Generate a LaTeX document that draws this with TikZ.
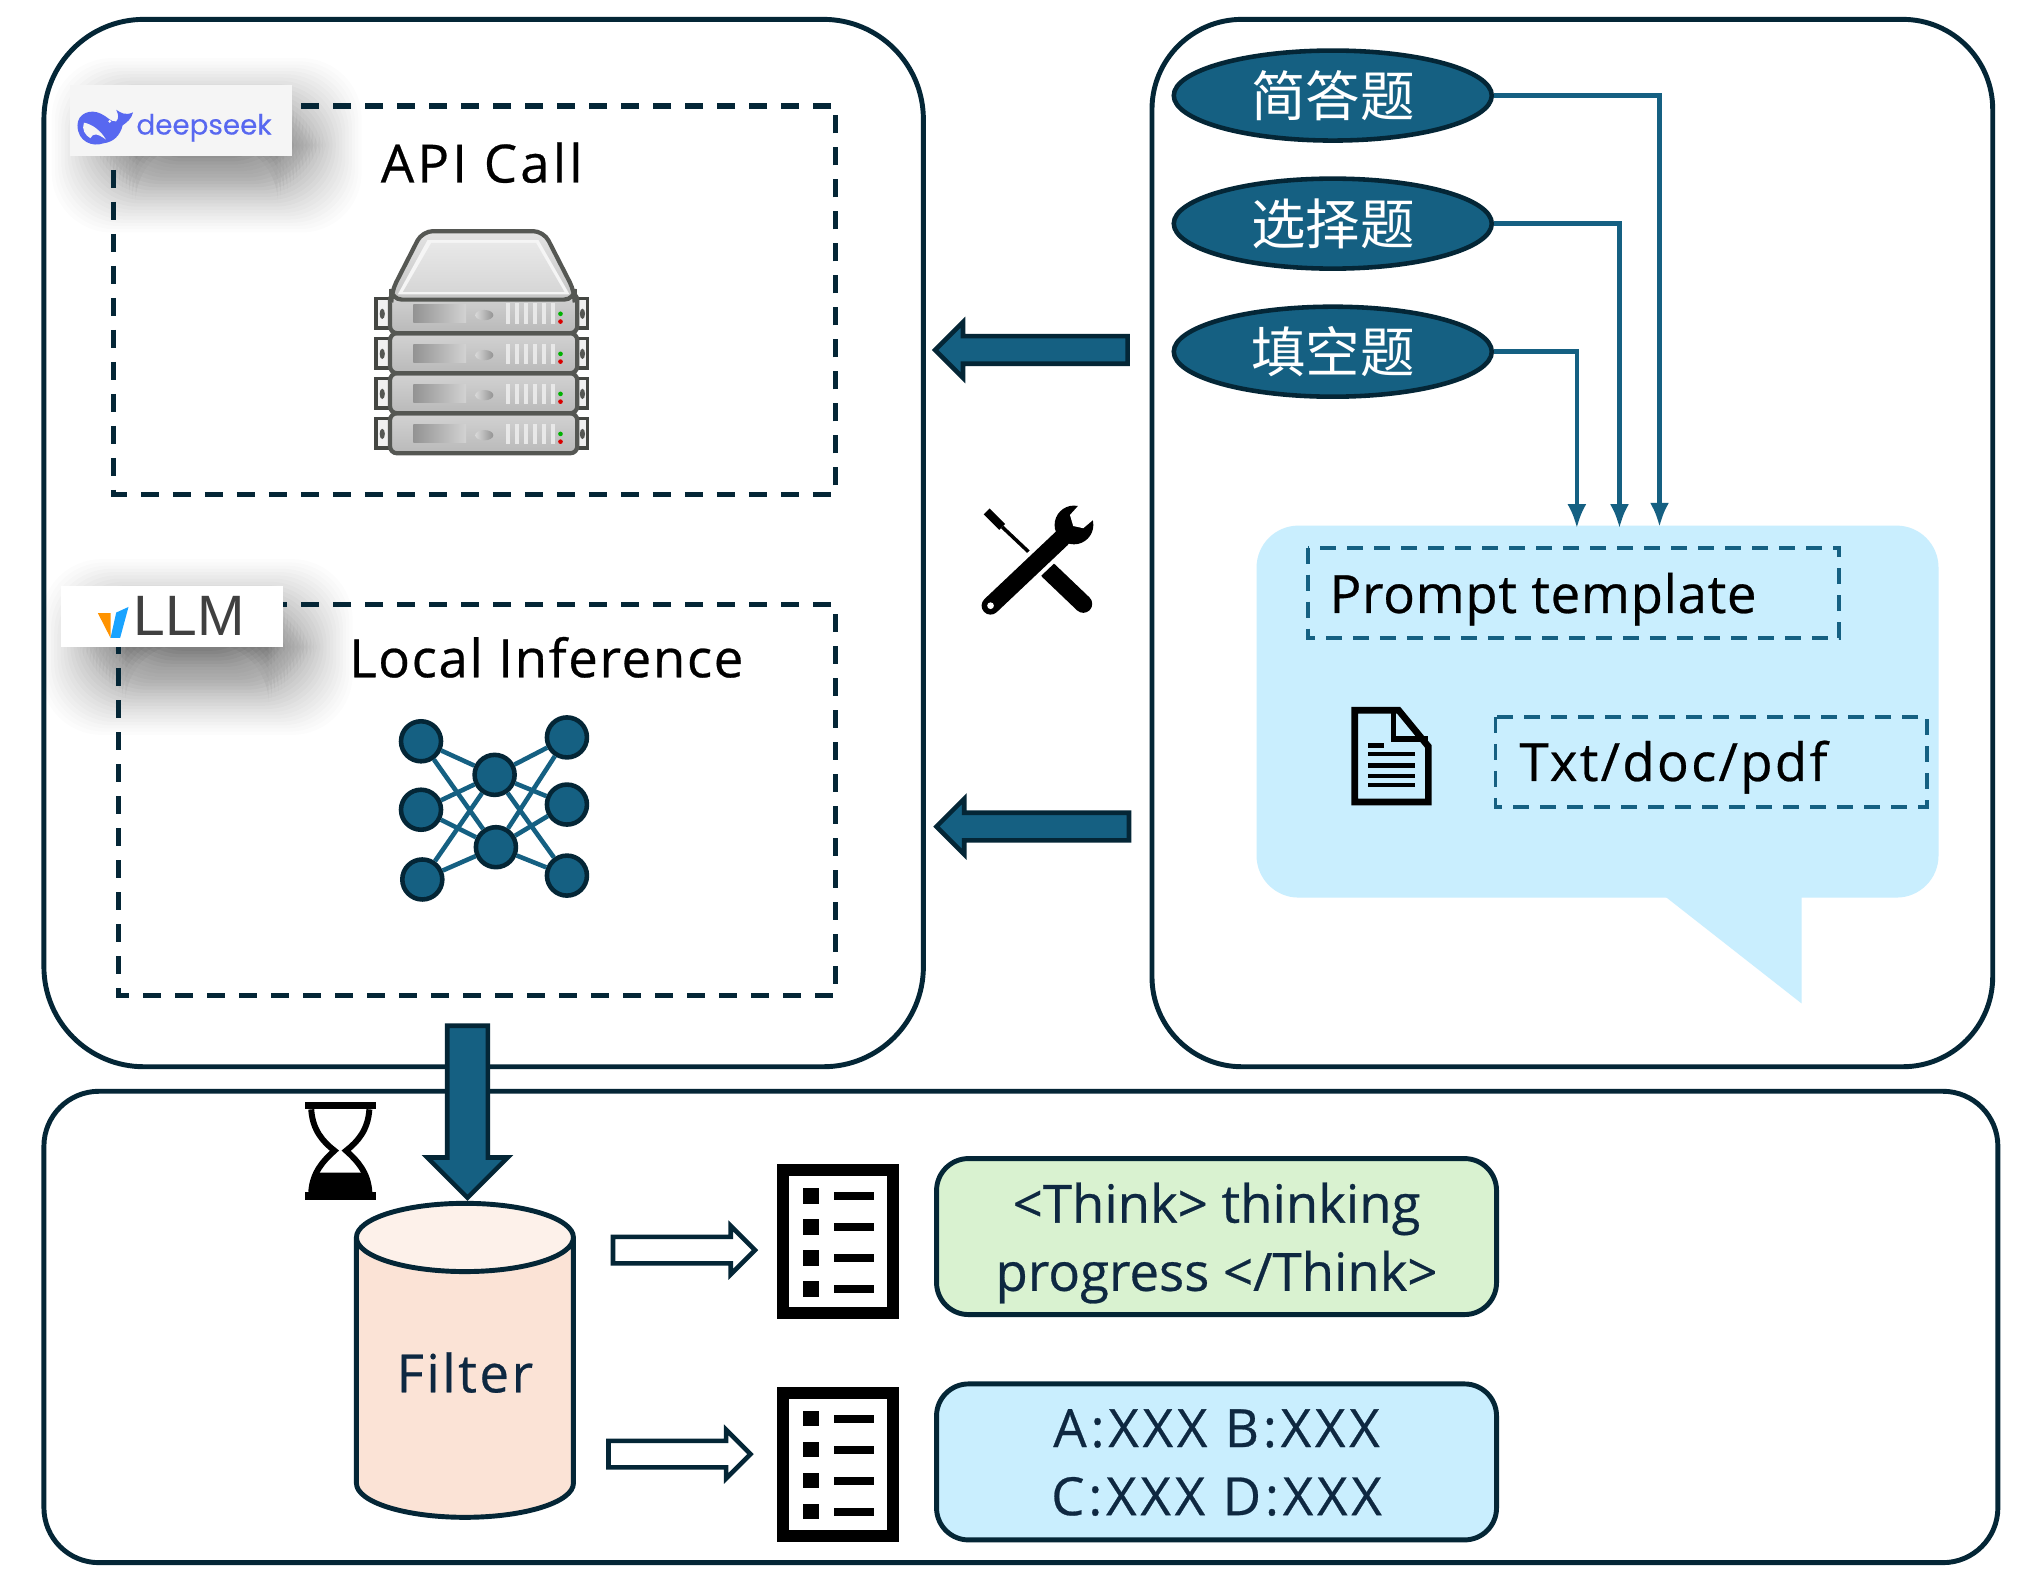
\documentclass[tikz,border=0pt]{standalone}
\usepackage{fontspec}
\setmainfont{Open Sans}
\newfontfamily\cjkfont{Noto Sans CJK SC}
\newfontfamily\logofont{Poppins}
\newfontfamily\vllmfont{Liberation Sans}
\usetikzlibrary{arrows.meta,positioning,shapes.geometric,shapes.arrows}
\definecolor{navyline}{RGB}{4,38,54}
\definecolor{tealfill}{RGB}{21,96,130}
\definecolor{skyfill}{RGB}{201,238,254}
\definecolor{mintfill}{RGB}{217,242,208}
\definecolor{peachfill}{RGB}{251,227,214}
\definecolor{peachtop}{RGB}{253,241,234}
\definecolor{inktext}{RGB}{14,40,65}
\definecolor{seekblue}{RGB}{88,104,240}
\definecolor{labelgrey}{RGB}{245,245,245}
\definecolor{srvedge}{RGB}{85,87,83}
\newcommand{\softshadow}[4]{%
  \foreach \s in {-25,-22.5,...,40} {
    \pgfmathsetmacro{\alphaval}{0.012+0.02*(40-\s)/65}
    \fill[black,opacity=\alphaval,rounded corners=0.6cm] ({#1-\s},{#2-\s}) rectangle ({#3+\s},{#4+\s});
  }}
\newcommand{\serverunit}[1]{%
  \begin{scope}[shift={(0,#1)}]
    \draw[line width=1pt,draw=srvedge!80!black,fill=gray!12] (291,231) rectangle (302,254);
    \draw[line width=1pt,draw=srvedge!80!black,fill=gray!12] (447,231) rectangle (455,254);
    \fill[srvedge] (296,243) ellipse [x radius=2,y radius=4];
    \fill[srvedge] (451,243) ellipse [x radius=2,y radius=4];
    \draw[line width=1.2pt,draw=srvedge,rounded corners=2pt,top color=gray!35,bottom color=gray!55] (302,227) rectangle (447,258);
    \shade[left color=gray!85,right color=gray!35] (320,236) -- (361,236) -- (361,250) -- (320,250) -- cycle;
    \shade[left color=gray!30,right color=gray!85] (375,244) ellipse [x radius=7,y radius=4];
    \foreach \x in {392,399,...,427}
      \fill[gray!18] (\x,235) rectangle +(3,16);
    \fill[green!70!black] (434,243) circle [radius=1.8];
    \fill[red!85!black] (434,249) circle [radius=1.8];
  \end{scope}}
\newcommand{\listicon}[3]{%
  \node[draw=black,line width=3.3pt,fill=white,minimum width=1.1cm,minimum height=1.43cm,inner sep=0pt] (#3) at (#1,#2) {};
  \foreach \d in {-35.5,-11.5,12.5,36.5} {
    \fill[black] ({#1-27},{#2+\d-6}) rectangle ({#1-14.5},{#2+\d+6});
    \fill[black] ({#1-3},{#2+\d-3}) rectangle ({#1+28},{#2+\d+3});
  }}
\begin{document}
\begin{tikzpicture}[
    x=0.12915mm,y=-0.12915mm,
    panel/.style={draw=navyline,line width=1.4pt,rounded corners=#1},
    dashbox/.style={draw=navyline,line width=1.5pt,dash pattern=on 0.18cm off 0.14cm},
    tealbox/.style={draw=tealfill,line width=1.1pt,dash pattern=on 0.16cm off 0.11cm},
    qtype/.style={ellipse,draw=navyline,fill=tealfill,line width=1.3pt,minimum width=3.18cm,
      minimum height=0.9cm,inner sep=0pt,text=white,font=\cjkfont\fontsize{15.5}{18}\selectfont},
    flow/.style={draw=tealfill,line width=1.25pt,-{Latex[length=2.4mm,width=1.9mm]}},
    blockarrow/.style={single arrow,draw=navyline,fill=tealfill,line width=1.3pt,inner xsep=0pt,
      outer sep=0pt,single arrow head extend=#1,single arrow tip angle=90},
    hollowarrow/.style={single arrow,draw=navyline,fill=white,line width=1.3pt,inner xsep=0pt,
      inner ysep=0.11cm,outer sep=0pt,minimum height=1.42cm,single arrow head extend=0.11cm,
      single arrow tip angle=90},
    label/.style={font=\fontsize{15}{18}\selectfont\addfontfeature{LetterSpace=#1,FakeBold=0.5},text=black,inner sep=0pt},
    inklabel/.style={align=center,font=\fontsize{15}{19.4}\selectfont\addfontfeature{LetterSpace=#1,FakeBold=0.5},
      text=inktext,inner sep=0pt},
    result/.style={draw=navyline,line width=1.4pt,rounded corners=0.32cm,minimum width=5.6cm,
      minimum height=1.56cm,inner sep=0pt},
    neuron/.style={circle,draw=navyline,fill=tealfill,line width=1.3pt,minimum size=0.4cm,inner sep=0pt},
    synapse/.style={draw=tealfill,line width=1.3pt}
  ]
  \useasboundingbox[fill=white] (0,0) rectangle (1568,1219.6);

  \draw[panel=1.0cm] (34,15) rectangle (715,826);
  \draw[panel=0.9cm] (892,15) rectangle (1543,826);
  \draw[panel=0.55cm] (34,845) rectangle (1547,1210);

  \softshadow{80}{85}{240}{140}
  \softshadow{72}{473}{233}{529}
  \draw[dashbox] (88,82) rectangle (647,383);
  \draw[dashbox] (92,468) rectangle (647,771);

  \node[fill=labelgrey,minimum width=2.22cm,minimum height=0.71cm,inner sep=0pt] (seeklabel) at (140,93.5) {};
  \fill[seekblue] (60,97) .. controls (60,88) and (70,84) .. (78,88) .. controls (83,90) and (86,95) .. (90,94)
    .. controls (92,92) and (92,89) .. (90,85) .. controls (93,87) and (97,90) .. (103,87)
    .. controls (102,92) and (98,95) .. (95,97) .. controls (93,105) and (88,110) .. (80,111)
    .. controls (72,114) and (60,110) .. (60,97) -- cycle;
  \fill[labelgrey] (65,95) .. controls (71,96) and (78,101) .. (82,108) .. controls (75,103) and (72,103) .. (70,107)
    .. controls (66,105) and (63,100) .. (65,95) -- cycle;
  \fill[labelgrey] (85,94) circle [radius=1.2];
  \node[font=\logofont\fontsize{7.9}{10}\selectfont\addfontfeature{FakeBold=0.3},text=seekblue,inner sep=0pt] (seektext) at (158,99) {deepseek};

  \node[fill=white,minimum width=2.22cm,minimum height=0.61cm,inner sep=0pt] (vllmlabel) at (133,477.5) {};
  \fill[orange!85!yellow] (75.8,474.8) -- (85.6,474.8) -- (85.6,494) -- cycle;
  \fill[blue!40!cyan!90!white] (90,474.3) -- (99.5,470) -- (93,494) -- (85.6,494) -- cycle;
  \node[font=\vllmfont\fontsize{16.2}{18}\selectfont,text=black!75,inner sep=0pt,anchor=west] (vllmtext) at (103,477) {LLM};

  \node[label=6.0] (apicall) at (373,126) {API Call};
  \node[label=3.2] (localinf) at (423,509) {Local Inference};

  \foreach \u in {93,62,31,0} {\serverunit{\u}}
  \draw[line width=1.2pt,draw=srvedge,top color=gray!22,bottom color=gray!45,rounded corners=3pt]
    (303,232) -- (303,226) -- (327,179) -- (421,179) -- (445,226) -- (445,232) -- cycle;
  \fill[gray!8] (331,186) -- (417,186) -- (441,228) -- (308,228) -- cycle;
  \shade[top color=gray!18,bottom color=gray!32] (334,188) -- (415,188) -- (437,226) -- (312,226) -- cycle;

  \foreach \nname/\nx/\ny in {la/326/574,lb/326/627,lc/327/681,ra/439/571,rb/439/623,rc/439/678,ca/383/600,cb/384/656}
    \node[neuron] (\nname) at (\nx,\ny) {};
  \foreach \outer in {la,lb,lc,ra,rb,rc}
    \foreach \inner in {ca,cb}
      \draw[synapse] (\outer) -- (\inner);

  \node[blockarrow=0.14cm,rotate=180,inner ysep=0.115cm,minimum height=1.925cm] (apiarrow) at (804,271) {};
  \node[blockarrow=0.14cm,rotate=180,inner ysep=0.115cm,minimum height=1.925cm] (localarrow) at (805,640) {};
  \node[blockarrow=0.2cm,rotate=270,inner ysep=0.18cm,minimum height=1.72cm] (downarrow) at (362,853) {};

  \draw[line width=1pt] (776,408) -- (812,442);
  \draw[line width=5.1pt,line cap=round] (812,442) -- (838.8,467.6);
  \draw[line width=2.4pt] (764,396) -- (776,408);
  \draw[white,line width=7.4pt] (767,469) -- (825,414);
  \fill[black] (831.6,406.5) circle [radius=15];
  \draw[line width=5.1pt,line cap=round] (767,469) -- (822,417);
  \fill[white] (840,386) -- (828.5,398.8) -- (831,407.3) -- (838.8,409) -- (853,397) -- cycle;
  \fill[white] (767,469) circle [radius=2.6];

  \node[qtype] (shortq) at (1032,74) {简答题};
  \node[qtype,below=0.335cm of shortq] (choiceq) {选择题};
  \node[qtype,below=0.335cm of choiceq] (blankq) {填空题};

  \node[fill=skyfill,rounded corners=0.42cm,minimum width=6.82cm,minimum height=3.72cm,inner sep=0pt] (bubble) at (1237,551) {};
  \fill[skyfill] (1284,690) -- (1395,777) -- (1395,690) -- cycle;

  \coordinate (intoa) at (1285,408);
  \coordinate (intob) at (1254,409);
  \coordinate (intoc) at (1221,409);
  \draw[flow] (shortq.east) -| (intoa);
  \draw[flow] (choiceq.east) -| (intob);
  \draw[flow] (blankq.east) -| (intoc);

  \draw[tealbox] (1013,424) rectangle (1424,494);
  \draw[tealbox] (1158,555) rectangle (1492,625);
  \node[label=1.3,anchor=west] (template) at (1029,464) {Prompt template};
  \node[label=4.4,anchor=west] (formats) at (1176,594) {Txt/doc/pdf};

  \draw[line width=1.9pt,miter limit=4] (1049,550) -- (1083,550) -- (1106,578) -- (1106,621) -- (1049,621) -- cycle;
  \draw[line width=1.6pt] (1079,550) -- (1079,572) -- (1106,572);
  \fill[black] (1059,575.5) rectangle (1072,579);
  \foreach \y in {582,591,599,606}
    \fill[black] (1059,\y) rectangle (1096,{\y+3.6});

  \node[cylinder,shape border rotate=90,aspect=0.5,draw=navyline,line width=1.4pt,cylinder uses custom fill,
    cylinder body fill=peachfill,cylinder end fill=peachtop,minimum width=2.17cm,minimum height=3.14cm,
    inner sep=0pt,font=\fontsize{15}{18}\selectfont\addfontfeature{LetterSpace=4.9,FakeBold=0.5},text=inktext] (filter)
    at (360,1067.5) {\raisebox{3.6pt}{Filter}};

  \fill[black] (236,853) rectangle (291,859);
  \fill[black] (236,923) rectangle (291,929);
  \draw[line width=1.7pt] (241,859) .. controls (242,875) and (250,884) .. (259,891) .. controls (250,899) and (242,908) .. (241,923);
  \draw[line width=1.7pt] (286,859) .. controls (285,875) and (277,884) .. (268,891) .. controls (277,899) and (285,908) .. (286,923);
  \fill[black] (240,923) .. controls (241,916) and (243,911) .. (245,908) -- (282,908) .. controls (284,911) and (286,916) .. (287,923) -- cycle;

  \node[hollowarrow] (uparrow) at (524.5,968) {};
  \node[hollowarrow] (lowarrow) at (521,1126) {};

  \listicon{649}{961.5}{checkone}
  \listicon{649}{1134}{checktwo}

  \node[result,fill=mintfill] (thinkbox) at (942,957.5) {};
  \node[result,fill=skyfill] (answerbox) at (942,1132) {};
  \node[inklabel=0] (thinktext) at (942,962.5) {<Think> thinking\\progress </Think>};
  \node[inklabel=7.3] (answertext) at (942,1132.5) {A:XXX B:XXX\\C:XXX D:XXX};
\end{tikzpicture}
\end{document}
